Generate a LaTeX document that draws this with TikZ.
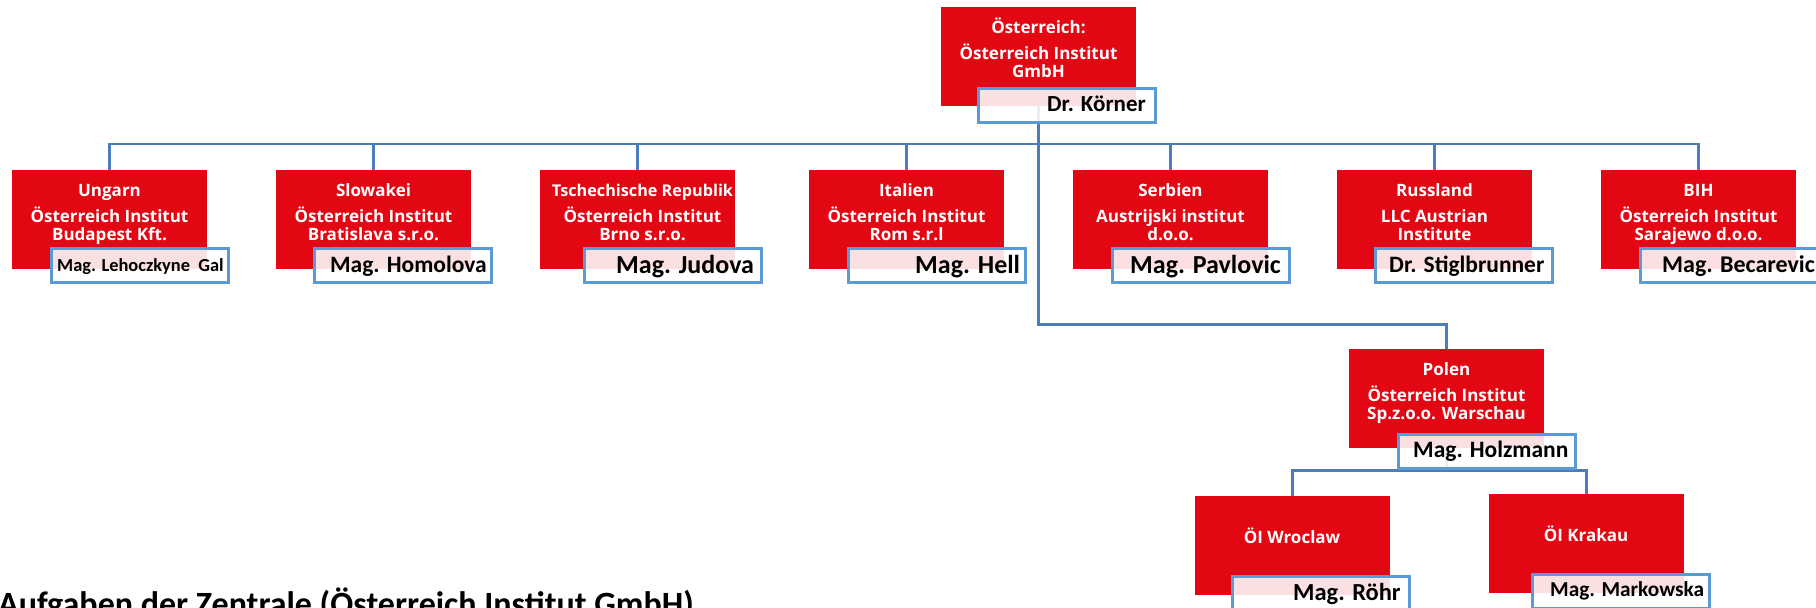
\documentclass[tikz,border=0pt]{standalone}
\usepackage{fontspec}
\setmainfont{Carlito}
\newfontfamily\redfont{Open Sans}
\definecolor{oired}{RGB}{227,6,19}
\definecolor{linkblue}{RGB}{74,126,187}
\definecolor{namebd}{RGB}{91,155,213}
\newcommand{\redlines}[6]{%
  \node[redtxt] (#1t) at (#2,#3+26) {#4};
  \node[redtxt] (#1a) at (#2,#3+52) {#5};
  \node[redtxt] (#1b) at (#2,#3+70) {#6};}
\newcommand{\nm}[2]{\fontsize{#1}{#1}\selectfont\bfseries #2}
\begin{document}
\begin{tikzpicture}[x=1pt,y=-1pt,
  redbox/.style={fill=oired, draw=none, minimum width=195pt, minimum height=99pt, anchor=north west, inner sep=0pt},
  namebox/.style={fill=white, fill opacity=0.88, draw=namebd, draw opacity=1, line width=2.6pt, minimum width=177pt, minimum height=34pt, anchor=north west, inner sep=0pt},
  redtxt/.style={text=white, font=\redfont\bfseries\fontsize{17}{18}\selectfont, anchor=base, inner sep=0pt},
  nametxt/.style={text=black, anchor=base west, inner sep=0pt},
  link/.style={draw=linkblue, line width=2.8pt}]
\useasboundingbox (0,0) rectangle (1816,608);
% red boxes
\node[redbox] (oe) at (941,7) {};
\node[redbox] (ung) at (12,170) {};
\node[redbox] (slo) at (276,170) {};
\node[redbox] (cze) at (540,170) {};
\node[redbox] (ita) at (809,170) {};
\node[redbox] (ser) at (1073,170) {};
\node[redbox] (rus) at (1337,170) {};
\node[redbox] (bih) at (1601,170) {};
\node[redbox] (pol) at (1349,349) {};
\node[redbox] (wro) at (1195,496) {};
\node[redbox] (kra) at (1489,494) {};
% connectors
\draw[link] (ung.north) -- ++(0,-26) -| (bih.north);
\foreach \b in {slo,cze,ita,ser,rus} \draw[link] (\b.north) -- ++(0,-26);
\draw[link] (oe.south) -- ++(0,218) -| (pol.north);
\draw[link] (pol.south) -- ++(0,22) -| (wro.north);
\draw[link] (pol.south) -- ++(0,22) -| (kra.north);
% redraw red boxes over connector stubs
\foreach \b in {oe,ung,slo,cze,ita,ser,rus,bih,pol,wro,kra} \fill[oired] (\b.north west) rectangle (\b.south east);
% red texts
\redlines{oe}{1038.5}{7}{Österreich:}{Österreich Institut}{GmbH}
\redlines{ung}{109.5}{170}{Ungarn}{Österreich Institut}{Budapest Kft.}
\redlines{slo}{373.5}{170}{Slowakei}{Österreich Institut}{Bratislava s.r.o.}
\redlines{cze}{642.5}{170}{\fontsize{16.2}{18}\selectfont Tschechische Republik}{Österreich Institut}{Brno s.r.o.}
\redlines{ita}{906.5}{170}{Italien}{Österreich Institut}{Rom s.r.l}
\redlines{ser}{1170.5}{170}{Serbien}{Austrijski institut}{d.o.o.}
\redlines{rus}{1434.5}{170}{Russland}{LLC Austrian}{Institute}
\redlines{bih}{1698.5}{170}{BIH}{Österreich Institut}{Sarajewo d.o.o.}
\redlines{pol}{1446.5}{349}{Polen}{Österreich Institut}{Sp.z.o.o. Warschau}
\node[redtxt] (wrot) at (1292,543) {ÖI Wroclaw};
\node[redtxt] (krat) at (1586,541) {ÖI Krakau};
% name boxes
\node[namebox] (oen) at (977,87) {};
\node[namebox] (ungn) at (50,247) {};
\node[namebox] (slon) at (313,247) {};
\node[namebox] (czen) at (583,247) {};
\node[namebox] (itan) at (847,247) {};
\node[namebox] (sern) at (1111,247) {};
\node[namebox] (rusn) at (1374,247) {};
\node[namebox] (bihn) at (1639,247) {};
\node[namebox] (poln) at (1397,433) {};
\node[namebox] (wron) at (1231,575) {};
\node[namebox] (kran) at (1531,573) {};
% name texts
\node[nametxt] (oel) at (1047,111) {\nm{23}{Dr. Körner}};
\node[nametxt] (ungl) at (57,271) {\nm{18.4}{Mag. Lehoczkyne\ \ Gal}};
\node[nametxt] (slol) at (330,272) {\nm{23.5}{Mag. Homolova}};
\node[nametxt] (czel) at (616,273) {\nm{26}{Mag. Judova}};
\node[nametxt] (ital) at (915,273) {\nm{26}{Mag. Hell}};
\node[nametxt] (serl) at (1130,273) {\nm{26}{Mag. Pavlovic}};
\node[nametxt] (rusl) at (1389,272) {\nm{23.5}{Dr. Stiglbrunner}};
\node[nametxt] (bihl) at (1662,272) {\nm{24}{Mag. Becarevic}};
\node[nametxt] (poll) at (1413,457) {\nm{23.5}{Mag. Holzmann}};
\node[nametxt] (wrol) at (1293,600) {\nm{24.5}{Mag. Röhr}};
\node[nametxt] (kral) at (1550,596) {\nm{21.3}{Mag. Markowska}};
% caption
\node[nametxt] (cap) at (-2,615) {\nm{34}{Aufgaben der Zentrale (Österreich Institut GmbH)}};
\end{tikzpicture}
\end{document}
